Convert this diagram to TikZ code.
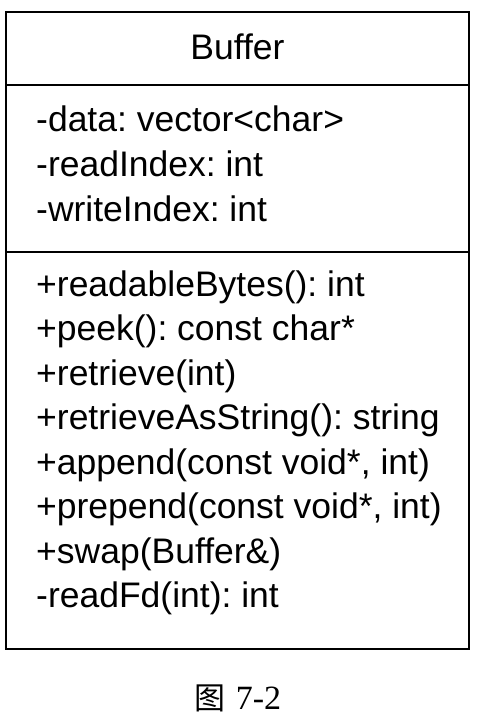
\documentclass[tikz,border=0pt]{standalone}
\usepackage{fontspec}
\setmainfont{Liberation Sans}
\newfontfamily\capserif{Liberation Serif}
\newfontfamily\cjk{Noto Sans CJK SC}
\frenchspacing
\begin{document}
\begin{tikzpicture}[x=1pt,y=-1pt,
  member/.style={anchor=base west,inner sep=0pt,font=\fontsize{35.5}{40}\selectfont},
  title/.style={anchor=base,inner sep=0pt,font=\fontsize{35.5}{40}\selectfont},
  frame/.style={draw=black,line width=2.6pt},
  sep/.style={draw=black,line width=2pt}]
\useasboundingbox[fill=white] (0,0) rectangle (488,716);
\coordinate (tl) at (6,12);
\coordinate (br) at (469,649);
\coordinate (s1l) at (6,85);
\coordinate (s1r) at (469,85);
\coordinate (s2l) at (6,252);
\coordinate (s2r) at (469,252);
\draw[frame] (tl) rectangle (br);
\draw[sep] (s1l) -- (s1r);
\draw[sep] (s2l) -- (s2r);
\node[title] (name) at (237.5,59) {Buffer};
\node[member] (a1) at (36,131) {-data: vector<char>};
\node[member] (a2) at (36,176) {-readIndex: int};
\node[member] (a3) at (36,221) {-writeIndex: int};
\node[member] (m1) at (36,296) {+readableBytes(): int};
\node[member] (m2) at (36,340.5) {+peek(): const char*};
\node[member] (m3) at (36,385) {+retrieve(int)};
\node[member] (m4) at (36,429.5) {+retrieveAsString(): string};
\node[member] (m5) at (36,474) {+append(const void*, int)};
\node[member] (m6) at (36,518.5) {+prepend(const void*, int)};
\node[member] (m7) at (36,563) {+swap(Buffer\&)};
\node[member] (m8) at (36,607.5) {-readFd(int): int};
\node[anchor=base,inner sep=0pt] (cap) at (238,709) {{\cjk\fontsize{31}{34}\selectfont 图}\hspace{10pt}{\capserif\fontsize{34}{38}\selectfont 7-2}};
\end{tikzpicture}
\end{document}
